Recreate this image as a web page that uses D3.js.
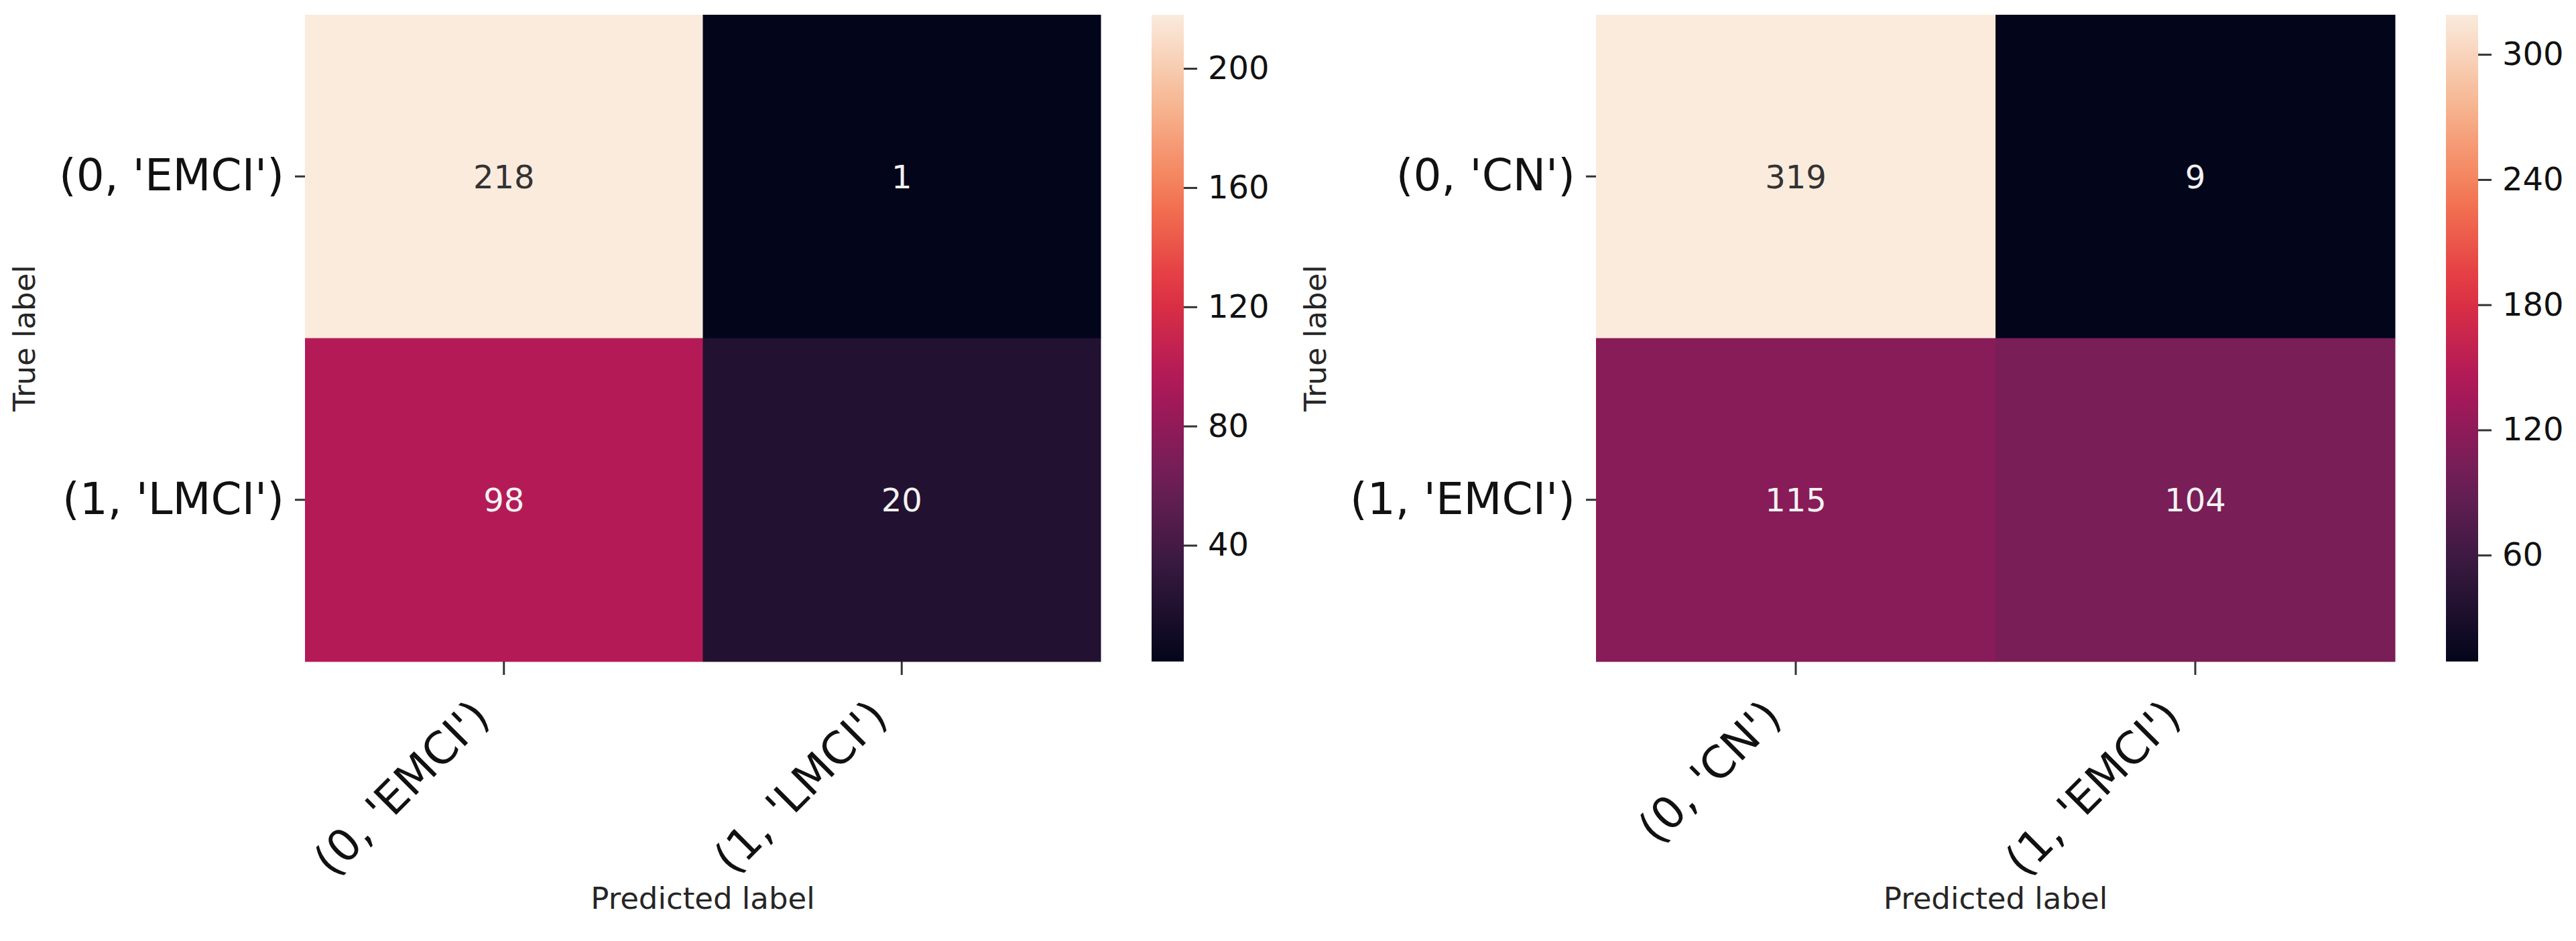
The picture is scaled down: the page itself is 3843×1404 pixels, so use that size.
<!DOCTYPE html>
<html>
<head>
<meta charset="utf-8">
<script src="https://cdn.jsdelivr.net/npm/d3@7"></script>
<style>
  body { margin: 0; background: #fff; }
  text { font-family: "DejaVu Sans", sans-serif; }
</style>
</head>
<body>
<div id="chart"></div>
<script>

// left matrix: EMCI vs LMCI
const leftLabels = ["(0, 'EMCI')", "(1, 'LMCI')"]
const leftValues = [[218, 1], [98, 20]]
const leftTicks = [40, 80, 120, 160, 200]

// right matrix: CN vs EMCI
const rightLabels = ["(0, 'CN')", "(1, 'EMCI')"]
const rightValues = [[319, 9], [115, 104]]
const rightTicks = [60, 120, 180, 240, 300]

// seaborn "rocket" colormap samples
const rocketPos = [0, 1/7, 2/7, 3/7, 4/7, 5/7, 6/7, 1]
const rocketColors = ['#03051a', '#35193e', '#701f57', '#ad1759', '#e13342', '#f37651', '#f6b48f', '#faebdd']

let width = 3843,
    height = 1404,
    plotTop = 22,
    plotBottom = 987

let svg = d3.select('#chart').append('svg')
    .attr('width', width)
    .attr('height', height)

svg.append('rect')
    .attr('width', width)
    .attr('height', height)
    .attr('fill', '#fff')

let rocket = d3.scaleLinear()
    .domain(rocketPos)
    .range(rocketColors)
    .interpolate(d3.interpolateRgb)
    .clamp(true)

let defs = svg.append('defs')

let grad = defs.append('linearGradient')
    .attr('id', 'rocket-grad')
    .attr('x1', '0%').attr('y1', '100%')
    .attr('x2', '0%').attr('y2', '0%')

d3.range(0, 1.0001, 0.05).forEach(function(t){
    grad.append('stop')
        .attr('offset', (t * 100) + '%')
        .attr('stop-color', rocket(t))
})

let condensed = '"DejaVu Sans Condensed", "DejaVu Sans", sans-serif'

function drawPanel(labels, values, ticks, x0, x1, cb0, cb1){

    let flat = []
    values.forEach(function(row, i){
        row.forEach(function(v, j){
            flat.push({'row': labels[i], 'col': labels[j], 'value': v})
        })
    })

    let vmin = d3.min(flat, d => d.value),
        vmax = d3.max(flat, d => d.value)

    let norm = d3.scaleLinear().domain([vmin, vmax]).range([0, 1])

    let x = d3.scaleBand().domain(labels).range([x0, x1])
    let y = d3.scaleBand().domain(labels).range([plotTop, plotBottom])

    let g = svg.append('g')

    g.selectAll('.cell')
        .data(flat)
        .enter()
        .append('rect')
        .attr('x', d => x(d.col))
        .attr('y', d => y(d.row))
        .attr('width', x.bandwidth() + 0.5)
        .attr('height', y.bandwidth() + 0.5)
        .attr('fill', d => rocket(norm(d.value)))

    g.selectAll('.annot')
        .data(flat)
        .enter()
        .append('text')
        .attr('x', d => x(d.col) + x.bandwidth() / 2)
        .attr('y', d => y(d.row) + y.bandwidth() / 2)
        .attr('dy', '0.36em')
        .attr('text-anchor', 'middle')
        .attr('font-size', 48)
        .attr('font-family', condensed)
        .attr('fill', d => norm(d.value) > 0.6 ? '#333' : '#f2f2f2')
        .text(d => d.value)

    // y axis
    let yAxis = g.append('g')
        .attr('transform', 'translate(' + x0 + ',0)')
        .call(d3.axisLeft(y).tickSize(15).tickPadding(16))

    yAxis.select('.domain').remove()
    yAxis.selectAll('line').attr('stroke', '#333').attr('stroke-width', 3)
    yAxis.selectAll('text')
        .attr('font-size', 66)
        .attr('fill', '#111')
        .attr('font-family', '"DejaVu Sans", sans-serif')

    // x axis with rotated labels
    let xAxis = g.append('g')
        .attr('transform', 'translate(0,' + plotBottom + ')')
        .call(d3.axisBottom(x).tickSize(20).tickPadding(0))

    xAxis.select('.domain').remove()
    xAxis.selectAll('line').attr('stroke', '#333').attr('stroke-width', 3)
    xAxis.selectAll('text')
        .attr('font-size', 66)
        .attr('fill', '#111')
        .attr('font-family', '"DejaVu Sans", sans-serif')
        .attr('text-anchor', 'end')
        .attr('dy', null)
        .attr('y', null)
        .attr('transform', 'translate(-18,86) rotate(-45)')

    g.append('text')
        .attr('x', (x0 + x1) / 2)
        .attr('y', 1356)
        .attr('text-anchor', 'middle')
        .attr('font-size', 45)
        .attr('font-family', condensed)
        .attr('fill', '#262626')
        .text('Predicted label')

    g.append('text')
        .attr('transform', 'translate(' + (x0 - 419 + 16) + ',' + ((plotTop + plotBottom) / 2) + ') rotate(-90)')
        .attr('text-anchor', 'middle')
        .attr('font-size', 45)
        .attr('fill', '#262626')
        .text('True label')

    // colorbar
    let cb = d3.scaleLinear().domain([vmin, vmax]).range([plotBottom, plotTop])

    g.append('rect')
        .attr('x', cb0)
        .attr('y', plotTop)
        .attr('width', cb1 - cb0)
        .attr('height', plotBottom - plotTop)
        .attr('fill', 'url(#rocket-grad)')

    let cbAxis = g.append('g')
        .attr('transform', 'translate(' + cb1 + ',0)')
        .call(d3.axisRight(cb).tickValues(ticks).tickSize(20).tickPadding(16))

    cbAxis.select('.domain').remove()
    cbAxis.selectAll('line').attr('stroke', '#333').attr('stroke-width', 3)
    cbAxis.selectAll('text')
        .attr('font-size', 48)
        .attr('fill', '#111')
        .attr('font-family', '"DejaVu Sans", sans-serif')
}

drawPanel(leftLabels, leftValues, leftTicks, 455, 1642, 1718, 1766)
drawPanel(rightLabels, rightValues, rightTicks, 2381, 3573, 3649, 3697)

</script>
</body>
</html>
